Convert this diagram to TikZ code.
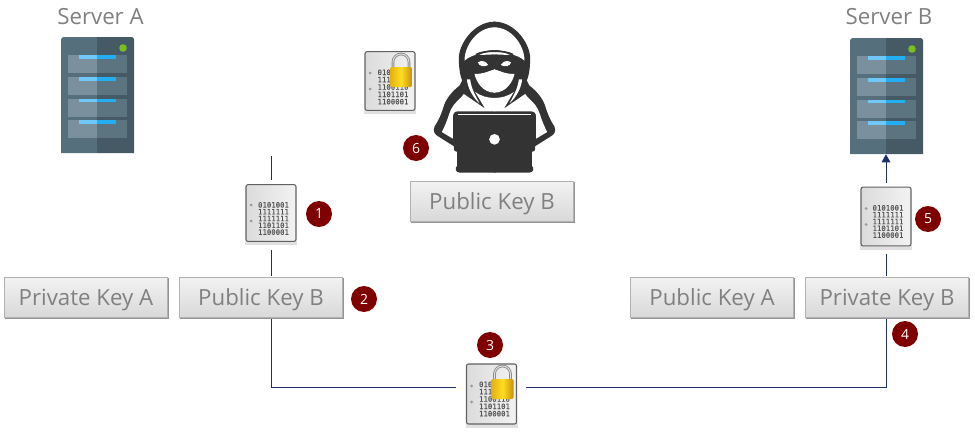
\documentclass[tikz,border=0pt]{standalone}
\usepackage{fontspec}
\setmainfont{Open Sans}
\newfontfamily\bitsfont{DejaVu Sans Mono}[FakeBold=0.15]
\usetikzlibrary{arrows.meta,calc}
\definecolor{wire}{HTML}{1F2F6B}
\definecolor{badgered}{HTML}{7F0000}
\definecolor{labelgray}{HTML}{808080}
\definecolor{hackdark}{HTML}{333333}
\definecolor{goldL}{HTML}{E3B012}
\definecolor{goldM}{HTML}{FFDD22}
\definecolor{goldR}{HTML}{C8900C}
\tikzset{
  keybox/.style={draw=black!30,line width=0.7pt,top color=black!5,bottom color=black!15,
     minimum width=122pt,minimum height=30pt,inner sep=0pt,text=labelgray,
     text height=12.8pt,text depth=0pt,font=\fontsize{16.7}{18}\selectfont},
  badge/.style={circle,fill=badgered,text=white,minimum size=19.5pt,inner sep=0pt,font=\fontsize{10.5}{12}\selectfont},
  title/.style={text=labelgray,inner sep=0pt,anchor=base,font=\fontsize{16.7}{18}\selectfont},
  wireline/.style={draw=wire,line width=0.75pt},
  docbody/.style={draw=black!62,line width=0.8pt,rounded corners=1.5pt,left color=black!14,right color=black!5,
     inner sep=0pt,minimum width=37.5pt},
  bits/.style={inner sep=0pt,text=black!68,font=\bitsfont\fontsize{5.5}{5.1}\selectfont},
  lockbits/.style={inner sep=0pt,text=black!68,font=\bitsfont\fontsize{5.5}{5.5}\selectfont},
  servernode/.style={inner sep=0pt,minimum width=54.75pt,minimum height=87pt}
}
\newcommand{\keynode}[4]{% name, cx, cy, text
  \fill[black!42] (#2-81,#3-19) rectangle (#2+83,#3+22);
  \node[keybox] (#1) at (#2,#3) {#4};
}
\newcommand{\docicon}[4]{% name, cx, cy, h(pt)
  \fill[black!30] (#2-24,#3+#4/1.5-2) rectangle (#2+24,#3+#4/1.5+2);
  \fill[black!12] (#2-26,#3+#4/1.5-1) rectangle (#2+26,#3+#4/1.5+4);
  \node[docbody,minimum height=#4 pt] (#1) at (#2,#3) {};
  \fill[black!40] (#2-20,#3-8) circle[radius=1.5];
  \fill[black!40] (#2-20,#3+8) circle[radius=1.5];
}
\newcommand{\padlock}[2]{% cx, top of shackle
  \begin{scope}[shift={(#1,#2)}]
    \draw[line width=2pt,black!45] (-8,16) -- (-8,9) arc[start angle=180,end angle=360,radius=8] -- (8,16);
    \draw[line width=0.7pt,black!12] (-8,16) -- (-8,9) arc[start angle=180,end angle=360,radius=8] -- (8,16);
    \shade[left color=goldL,right color=goldR,middle color=goldM,rounded corners=1pt]
       (-11,14) rectangle (11,34);
  \end{scope}
}
\newcommand{\serverpic}[3]{% name, left, top
  \node[servernode] (#1) at (#2+36.5,#3+58) {};
  \begin{scope}[shift={(#2,#3)}]
    \fill[fill={rgb,255:red,86;green,111;blue,124}] (2,0) -- (36,0) -- (36,116) -- (0,116) -- (0,2) to[bend left=20] cycle;
    \fill[fill={rgb,255:red,69;green,90;blue,100}] (36,0) -- (71,0) to[bend left=20] (73,2) -- (73,116) -- (36,116) -- cycle;
    \foreach \y in {18.3,40,61.7,83.4}{
      \fill[fill={rgb,255:red,122;green,144;blue,156}] (7,\y) rectangle (36,\y+18);
      \fill[fill={rgb,255:red,91;green,116;blue,128}] (36,\y) rectangle (66,\y+18);
      \fill[fill={rgb,255:red,111;green,200;blue,248}] (18,\y) rectangle (36,\y+3.6);
      \fill[fill={rgb,255:red,34;green,174;blue,240}] (36,\y) rectangle (55,\y+3.6);
    }
    \fill[fill={rgb,255:red,120;green,190;blue,32}] (62,11) circle[radius=3.8];
  \end{scope}
}
\begin{document}
\begin{tikzpicture}[x=0.75pt,y=-0.75pt]
\useasboundingbox (0,0) rectangle (975,432);

% titles
\node[title] (titleA) at (100.5,25) {Server A};
\node[title] (titleB) at (889,25) {Server B};

% servers
\serverpic{serverA}{61}{37}
\serverpic{serverB}{850}{38}

% hacker: one half drawn twice, in units of a third of a pixel
\foreach \s in {1,-1}{
\begin{scope}[shift={(494.5,20)},x=0.25pt,y=-0.25pt,xscale=\s]
  \fill[hackdark] (3,5) -- (0,5) .. controls (-60,5) and (-107,70) .. (-107,115)
     .. controls (-107,140) and (-104,165) .. (-97,182)
     -- (-105,197)
     .. controls (-125,212) and (-145,235) .. (-152,258)
     .. controls (-160,285) and (-170,305) .. (-180,320)
     .. controls (-184,332) and (-182,340) .. (-172,347)
     -- (-112,385) -- (-112,425)
     -- (-112,438) .. controls (-120,442) and (-118,458) .. (-104,458)
     -- (3,458) -- cycle;
\end{scope}
}
\foreach \s in {1,-1}{
\begin{scope}[shift={(494.5,20)},x=0.25pt,y=-0.25pt,xscale=\s]
  % hood interior
  \fill[white] (1,22) -- (0,22) .. controls (-50,22) and (-90,75) .. (-90,122)
     .. controls (-80,112) and (-60,104) .. (-45,102)
     .. controls (-30,92) and (-10,90) .. (1,90) -- cycle;
  \fill[white] (1,103) -- (-45,105) -- (-30,97) .. controls (-20,96) and (-10,96) .. (1,96) -- cycle;
  % eye
  \fill[white] (-50,127) .. controls (-38,119) and (-25,124) .. (-19,135)
     .. controls (-33,143) and (-46,138) .. (-50,127) -- cycle;
  % face
  \fill[white] (1,148) -- (0,148) .. controls (-15,152) and (-30,162) .. (-60,162)
     .. controls (-55,185) and (-35,218) .. (0,218) -- (1,218) -- cycle;
  % sliver between hood and neck
  \fill[white] (-83,178) .. controls (-80,205) and (-65,232) .. (-45,250)
     .. controls (-58,225) and (-70,205) .. (-73,178) -- cycle;
  % white under the chin and inside the shoulder
  \fill[white] (1,234) -- (0,234) .. controls (-20,234) and (-42,228) .. (-58,216)
     -- (-28,266) -- (-92,222) -- (-100,232)
     .. controls (-118,248) and (-130,262) .. (-136,282)
     .. controls (-142,302) and (-150,320) .. (-158,336)
     -- (-125,356) -- (-125,292)
     .. controls (-125,280) and (-120,274) .. (-110,274)
     -- (1,274) -- cycle;
\end{scope}
}
\begin{scope}[shift={(494.5,20)},x=0.25pt,y=-0.25pt]
  % laptop
  \fill[hackdark,rounded corners=2pt] (-122,276) rectangle (122,395);
  \fill[hackdark] (-112,390) rectangle (112,440);
  \draw[white,line width=0.5pt] (-110,283) -- (110,283);
  \fill[white] (0,358) circle[radius=16];
  \draw[hackdark,line width=1.3pt] (-56,104) .. controls (-30,90) and (30,90) .. (56,104);
\end{scope}

% document icons
\docicon{docPlain}{271}{213}{42.5}
\node[bits,align=right] (bitsPlain) at (273.5,218.5) {0101001\\1111111\\1111111\\1101101\\1100001};

\docicon{docRight}{886}{216.5}{44}
\node[bits,align=right] (bitsRight) at (888,221.5) {0101001\\1111111\\1111111\\1101101\\1100001};

\docicon{docTop}{390}{81}{44}
\node[lockbits,align=left] (bitsTop) at (393,87) {010\phantom{0000}\\111\phantom{0000}\\1100110\\1101101\\1100001};
\padlock{401}{53}

\docicon{docBottom}{491.5}{394}{45}
\node[lockbits,align=left] (bitsBottom) at (494.5,399) {010\phantom{0000}\\111\phantom{0000}\\1100110\\1101101\\1100001};
\padlock{502.5}{365}

% key boxes
\keynode{privA}{86}{297}{Private Key A}
\keynode{pubB}{261}{297}{Public Key B}
\keynode{pubA}{712}{297}{Public Key A}
\keynode{privB}{887}{297}{Private Key B}
\keynode{pubBhack}{492}{201}{Public Key B}

% connectors
\coordinate (freeTop) at (271,156);
\coordinate (corL) at (271,387);
\coordinate (corR) at (886,387);
\path[wireline] (freeTop) -- ($(docPlain.north)+(0,-4)$);
\path[wireline] ($(docPlain.south)+(0,8)$) -- (271,276);
\path[wireline] (271,319) -- (corL) -- ($(docBottom.west)+(-10,-7)$);
\path[wireline] ($(docBottom.east)+(9,-7)$) -- (corR) -- (886,319);
\path[wireline] (886,276) -- ($(docRight.south)+(0,8)$);
\draw[wire,line width=0.75pt,-{Triangle[length=6pt,width=6.5pt]}] ($(docRight.north)+(0,-4)$) -- (serverB.south -| docRight.north);

% badges
\node[badge] (b1) at (319,214) {1};
\node[badge] (b2) at (364,299) {2};
\node[badge] (b3) at (490,345) {3};
\node[badge] (b4) at (905,334) {4};
\node[badge] (b5) at (928,219) {5};
\node[badge] (b6) at (416,148) {6};
\end{tikzpicture}
\end{document}
